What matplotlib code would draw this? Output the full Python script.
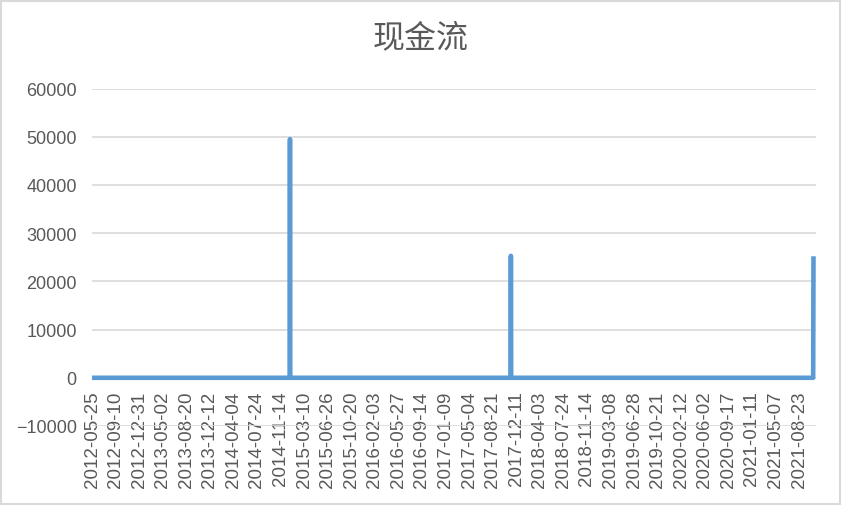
import numpy as np
import matplotlib.pyplot as plt
from matplotlib.patches import Rectangle

# category labels shown on the x axis (every 75th trading day)
tick_labels = [
    "2012-05-25", "2012-09-10", "2012-12-31", "2013-05-02", "2013-08-20",
    "2013-12-12", "2014-04-04", "2014-07-24", "2014-11-14", "2015-03-10",
    "2015-06-26", "2015-10-20", "2016-02-03", "2016-05-27", "2016-09-14",
    "2017-01-09", "2017-05-04", "2017-08-21", "2017-12-11", "2018-04-03",
    "2018-07-24", "2018-11-14", "2019-03-08", "2019-06-28", "2019-10-21",
    "2020-02-12", "2020-06-02", "2020-09-17", "2021-01-11", "2021-05-07",
    "2021-08-23",
]
label_step = 75
n_points = 2297

# cash flow is zero except on these days
spike_index = [630, 1333, 2296]
spike_value = [49500, 25300, 25200]

values = np.zeros(n_points)
values[spike_index] = spike_value
x = np.arange(n_points)

text_color = "#595959"
grid_color = "#D9D9D9"

fig = plt.figure(figsize=(8.42, 5.06), dpi=100)
ax = fig.add_axes([92 / 842, 1 - 427 / 506, (816 - 92) / 842, (427 - 89.5) / 506])

for s in ax.spines.values():
    s.set_visible(False)
# labels hang from the zero line, like Excel's "next to axis"
ax.spines["bottom"].set_position(("data", 0))

ax.plot(x, values, color="#5B9BD5", linewidth=3.3,
        solid_joinstyle="round", solid_capstyle="butt")

ax.set_ylim(-10000, 60000)
ax.set_yticks(np.arange(-10000, 60001, 10000))
ax.set_xlim(0, n_points + 7)
ax.set_xticks(np.arange(len(tick_labels)) * label_step)
ax.set_xticklabels(tick_labels)

ax.grid(axis="y", color=grid_color, linewidth=1.2)
ax.set_axisbelow(True)

ax.tick_params(axis="y", length=0, pad=11, labelsize=13, labelcolor=text_color)
ax.tick_params(axis="x", length=0, pad=9, labelsize=13.5, labelcolor=text_color,
               labelrotation=90)
for lab in ax.get_xticklabels() + ax.get_yticklabels():
    lab.set_family("Liberation Sans")

fig.text(0.5, 1 - 38 / 506, "现金流", ha="center", va="center",
         fontsize=23, color=text_color, family=["Noto Sans CJK SC", "DejaVu Sans"])

fig.patches.append(Rectangle((0.001, 0.002), 0.997, 0.995, transform=fig.transFigure,
                             fill=False, edgecolor=grid_color, linewidth=1.5))

fig.savefig("out.png", dpi=100)
